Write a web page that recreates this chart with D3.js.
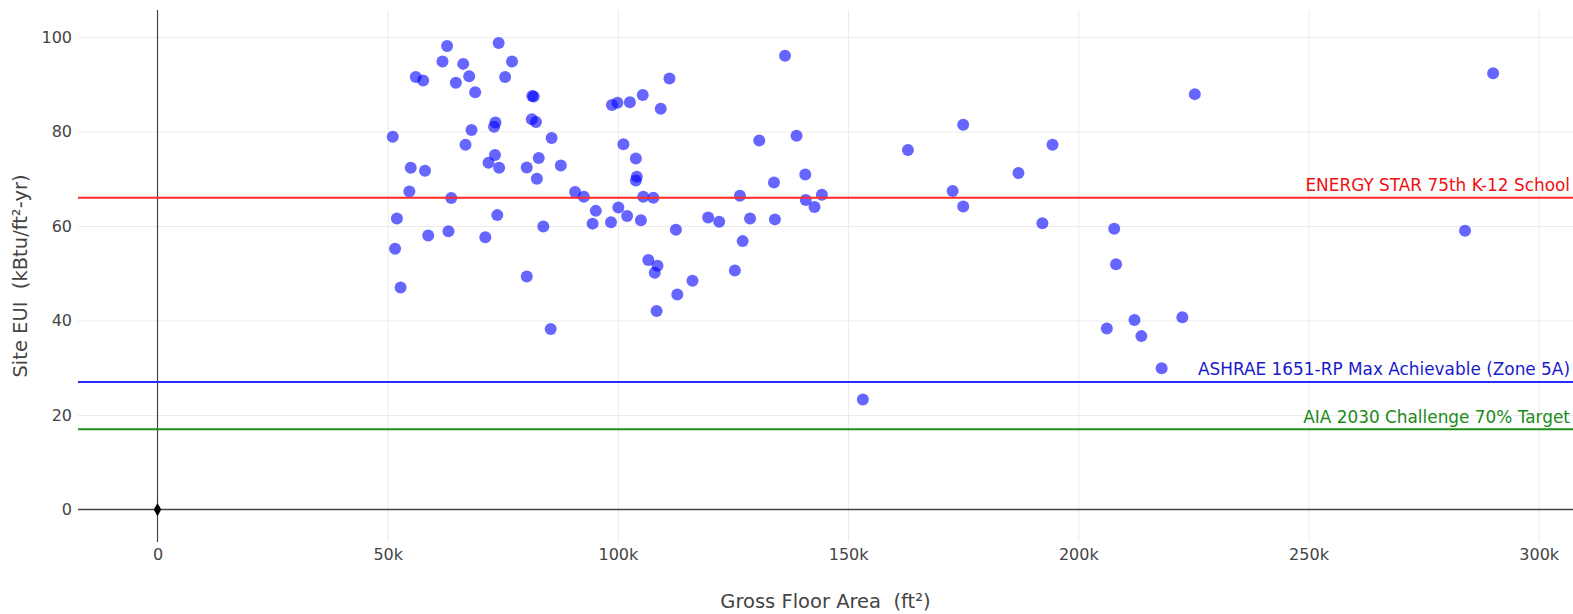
<!DOCTYPE html>
<html><head><meta charset="utf-8">
<script src="https://cdn.jsdelivr.net/npm/d3@7"></script>
<style>
body{margin:0;background:#fff}
svg{display:block}
text{font-family:Verdana,"DejaVu Sans",sans-serif}
</style>
</head><body>
<svg id="chart" width="1573" height="614"></svg>
<script>
// ---- data ----
const floorArea = [51100,52000,51600,52800,54700,55000,56100,57700,58100,58800,
  61900,62900,63200,63800,64800,66400,66900,67700,68200,69000,
  71200,71900,73100,73400,73300,73800,74200,74100,75500,77000,
  80200,80200,81300,81400,81700,82200,82400,82800,83800,85400,
  85600,87600,90700,92600,94500,95200,98500,98700,99900,100100,
  101200,102000,102600,103900,103900,104100,105000,105400,105500,106600,
  107700,108000,108400,108600,109300,111200,112600,112900,116200,119600,
  122000,125400,126500,127100,128700,130700,133900,134100,136300,138800,
  140700,140800,142700,144300,153200,163000,172700,175000,175000,187000,
  192200,194400,206200,207800,208200,212200,213700,218100,222600,225300,
  284000,290100];
const siteEUI = [78.9,61.6,55.2,47.0,67.3,72.3,91.5,90.8,71.7,58.0,
  94.8,98.1,58.9,65.9,90.3,94.3,77.2,91.7,80.3,88.3,
  57.6,73.4,81.0,81.9,75.0,62.3,72.3,98.7,91.5,94.8,
  72.4,49.3,82.6,87.5,87.4,82.0,70.0,74.4,59.9,38.2,
  78.6,72.8,67.2,66.2,60.5,63.2,60.8,85.6,86.1,63.9,
  77.3,62.1,86.2,74.3,69.6,70.4,61.2,87.7,66.2,52.8,
  66.0,50.1,42.0,51.6,84.8,91.2,59.2,45.5,48.4,61.8,
  60.9,50.6,66.4,56.8,61.6,78.1,69.2,61.4,96.0,79.1,
  70.9,65.5,64.0,66.6,23.3,76.1,67.4,81.4,64.1,71.2,
  60.6,77.2,38.3,59.4,51.9,40.1,36.7,29.9,40.7,87.9,
  59.0,92.3];

const xTickValues = [0,50000,100000,150000,200000,250000,300000];
const xTickLabels = ["0","50k","100k","150k","200k","250k","300k"];
const yTickValues = [0,20,40,60,80,100];
const yTickLabels = ["0","20","40","60","80","100"];

const refNames = ["ENERGY STAR 75th K-12 School","ASHRAE 1651-RP Max Achievable (Zone 5A)","AIA 2030 Challenge 70% Target"];
const refValues = [66,27,17];
const refLineColors = ["#ff2b2b","#2b2bff","#1f8f1f"];
const refTextColors = ["#ee1111","#1a1acc","#1a8a1a"];

const xTitle = "Gross Floor Area  (ft²)";
const yTitle = "Site EUI  (kBtu/ft²-yr)";

// ---- layout ----
const W = 1573, H = 614;
const plot = {left:78, right:1573, top:10, bottom:542};
const x = d3.scaleLinear().domain([-17270,307450]).range([plot.left, plot.right]);
const y = d3.scaleLinear().domain([-6.86,105.7]).range([plot.bottom, plot.top]);
const FONT = "Verdana, 'DejaVu Sans', sans-serif";

const svg = d3.select("#chart");
svg.append("rect").attr("width",W).attr("height",H).attr("fill","#fff");

// grid
const gx = svg.append("g").attr("transform",`translate(0,${plot.bottom})`)
  .call(d3.axisBottom(x).tickValues(xTickValues.filter(d=>d!==0)).tickSize(-(plot.bottom-plot.top)).tickFormat(""));
gx.select(".domain").remove();
gx.selectAll("line").attr("stroke","#ebebeb").attr("stroke-width",1);
const gy = svg.append("g").attr("transform",`translate(${plot.left},0)`)
  .call(d3.axisLeft(y).tickValues(yTickValues.filter(d=>d!==0)).tickSize(-(plot.right-plot.left)).tickFormat(""));
gy.select(".domain").remove();
gy.selectAll("line").attr("stroke","#ebebeb").attr("stroke-width",1);

// zero lines
svg.append("line").attr("x1",plot.left).attr("x2",plot.right).attr("y1",y(0)).attr("y2",y(0))
  .attr("stroke","#444").attr("stroke-width",1.5);
svg.append("line").attr("x1",x(0)).attr("x2",x(0)).attr("y1",plot.top).attr("y2",plot.bottom)
  .attr("stroke","#444").attr("stroke-width",1.2);

// tick labels
const ax = svg.append("g").attr("transform",`translate(0,${plot.bottom})`)
  .call(d3.axisBottom(x).tickValues(xTickValues).tickSize(0).tickPadding(7).tickFormat((d,i)=>xTickLabels[i]));
ax.select(".domain").remove();
ax.selectAll("text").attr("fill","#444").style("font-size","16px").style("font-family",FONT);
const ay = svg.append("g").attr("transform",`translate(${plot.left},0)`)
  .call(d3.axisLeft(y).tickValues(yTickValues).tickSize(0).tickPadding(6).tickFormat((d,i)=>yTickLabels[i]));
ay.select(".domain").remove();
ay.selectAll("text").attr("fill","#444").style("font-size","16px").style("font-family",FONT);

// titles
svg.append("text").attr("x",(plot.left+plot.right)/2).attr("y",601).attr("dy","0.35em")
  .attr("text-anchor","middle").attr("fill","#444").style("font-size","19.5px").style("white-space","pre").text(xTitle);
svg.append("text").attr("transform",`translate(20,${(plot.top+plot.bottom)/2}) rotate(-90)`).attr("dy","0.35em")
  .attr("text-anchor","middle").attr("fill","#444").style("font-size","19.5px").style("white-space","pre").text(yTitle);

// points
const pts = floorArea.map((a,i)=>({a, e:siteEUI[i]}));
svg.append("g").selectAll("circle").data(pts).join("circle")
  .attr("cx",d=>x(d.a)).attr("cy",d=>y(d.e)).attr("r",6)
  .attr("fill","rgba(0,0,255,0.6)");

// origin diamond
svg.append("path").attr("d",d3.symbol(d3.symbolDiamond,50)())
  .attr("transform",`translate(${x(0)},${y(0)})`).attr("fill","#000");

// reference lines
const refs = refNames.map((n,i)=>({n, v:refValues[i], lc:refLineColors[i], tc:refTextColors[i]}));
svg.append("g").selectAll("line").data(refs).join("line")
  .attr("x1",plot.left).attr("x2",plot.right).attr("y1",d=>y(d.v)).attr("y2",d=>y(d.v))
  .attr("stroke",d=>d.lc).attr("stroke-width",2);
svg.append("g").selectAll("text").data(refs).join("text")
  .attr("x",1570).attr("y",d=>y(d.v)-12.5).attr("dy","0.35em").attr("text-anchor","end")
  .attr("fill",d=>d.tc).style("font-size","16.9px").text(d=>d.n);
</script>
</body></html>
